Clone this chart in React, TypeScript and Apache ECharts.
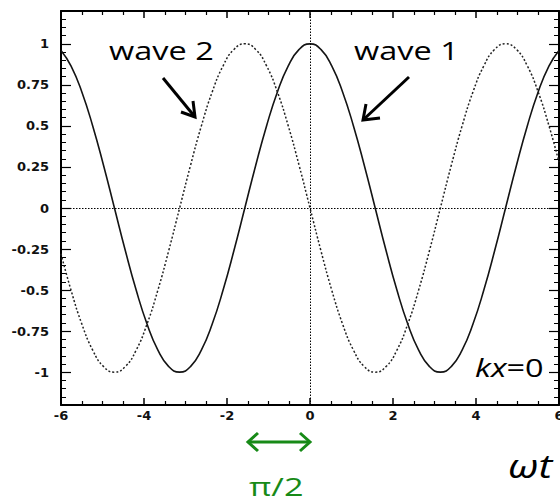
import React, { useEffect, useRef } from "react";
import * as echarts from "echarts";

// sample positions (ωt, in steps of π/12 plus the two ends) and values
const xs = [-6, -5.7596, -5.4978, -5.236, -4.9742, -4.7124, -4.4506, -4.1888, -3.927, -3.6652, -3.4034, -3.1416, -2.8798, -2.618, -2.3562, -2.0944, -1.8326, -1.5708, -1.309, -1.0472, -0.7854, -0.5236, -0.2618, 0, 0.2618, 0.5236, 0.7854, 1.0472, 1.309, 1.5708, 1.8326, 2.0944, 2.3562, 2.618, 2.8798, 3.1416, 3.4034, 3.6652, 3.927, 4.1888, 4.4506, 4.7124, 4.9742, 5.236, 5.4978, 5.7596, 6];
const waveOne = [0.96, 0.866, 0.707, 0.5, 0.259, 0, -0.259, -0.5, -0.707, -0.866, -0.966, -1, -0.966, -0.866, -0.707, -0.5, -0.259, 0, 0.259, 0.5, 0.707, 0.866, 0.966, 1, 0.966, 0.866, 0.707, 0.5, 0.259, 0, -0.259, -0.5, -0.707, -0.866, -0.966, -1, -0.966, -0.866, -0.707, -0.5, -0.259, 0, 0.259, 0.5, 0.707, 0.866, 0.96];
const waveTwo = [-0.279, -0.5, -0.707, -0.866, -0.966, -1, -0.966, -0.866, -0.707, -0.5, -0.259, 0, 0.259, 0.5, 0.707, 0.866, 0.966, 1, 0.966, 0.866, 0.707, 0.5, 0.259, 0, -0.259, -0.5, -0.707, -0.866, -0.966, -1, -0.966, -0.866, -0.707, -0.5, -0.259, 0, 0.259, 0.5, 0.707, 0.866, 0.966, 1, 0.966, 0.866, 0.707, 0.5, 0.279];
const yMajorTicks = [-1, -0.75, -0.5, -0.25, 0, 0.25, 0.5, 0.75, 1];
const xRange = [-6, 6];
const yRange = [-1.2, 1.2];
const annotations = ["wave 1", "wave 2", "kx", "=0", "ωt", "π/2"];

const labelFont = { fontFamily: "DejaVu Sans", fontWeight: "bold" as const, fontSize: 13, color: "#111" };
const GREEN = "#178a17";

export default function App() {
  const ref = useRef<HTMLDivElement>(null);
  useEffect(() => {
    if (!ref.current) return;
    document.body.style.margin = "0";
    document.body.style.overflow = "hidden";
    const chart = echarts.init(ref.current, undefined, { renderer: "svg" });
    const pairs = (vals: number[]) => xs.map((x, i) => [x, vals[i]]);
    const frameLine = { show: true, lineStyle: { color: "#000", width: 2 } };
    const yBase = { type: "value" as const, min: yRange[0], max: yRange[1], splitLine: { show: false } };
    const option: any = {
      animation: false,
      backgroundColor: "#fff",
      grid: { left: 61, right: 41, top: 11, bottom: 99, containLabel: false },
      xAxis: [
        {
          type: "value", position: "bottom", min: xRange[0], max: xRange[1], interval: 2,
          axisLine: { ...frameLine, onZero: false },
          axisTick: { show: true, inside: true, length: 7, lineStyle: { color: "#000", width: 1.5 } },
          minorTick: { show: true, splitNumber: 4, length: 4, lineStyle: { color: "#000", width: 1.2 } },
          axisLabel: { ...labelFont, margin: 4, formatter: (v: number) => String(v) },
          splitLine: { show: false },
        },
        {
          type: "value", position: "top", min: xRange[0], max: xRange[1], interval: 2,
          axisLine: { ...frameLine, onZero: false },
          axisTick: { show: true, inside: true, length: 7, lineStyle: { color: "#000", width: 1.5 } },
          minorTick: { show: true, splitNumber: 4, length: 4, lineStyle: { color: "#000", width: 1.2 } },
          axisLabel: { show: false },
          splitLine: { show: false },
        },
      ],
      yAxis: [
        {
          ...yBase, position: "left", interval: 0.05,
          axisLine: { ...frameLine, onZero: false },
          axisTick: { show: true, inside: true, length: 5, lineStyle: { color: "#000", width: 1 } },
          axisLabel: { ...labelFont, margin: 12, customValues: yMajorTicks, formatter: (v: number) => String(v) },
        },
        {
          ...yBase, position: "left", interval: 0.05,
          axisLine: { show: false, onZero: false },
          axisTick: { show: true, inside: true, length: 10, customValues: yMajorTicks, lineStyle: { color: "#000", width: 1.2 } },
          axisLabel: { show: false },
        },
        {
          ...yBase, position: "right", interval: 0.05,
          axisLine: { ...frameLine, onZero: false },
          axisTick: { show: true, inside: true, length: 5, lineStyle: { color: "#000", width: 1 } },
          axisLabel: { show: false },
        },
        {
          ...yBase, position: "right", interval: 0.05,
          axisLine: { show: false, onZero: false },
          axisTick: { show: true, inside: true, length: 10, customValues: yMajorTicks, lineStyle: { color: "#000", width: 1.2 } },
          axisLabel: { show: false },
        },
      ],
      series: [
        {
          name: "wave 1", type: "line", xAxisIndex: 0, yAxisIndex: 0, data: pairs(waveOne),
          smooth: true, showSymbol: false, symbol: "none",
          lineStyle: { color: "#141414", width: 1.6 },
          markLine: {
            silent: true, symbol: ["none", "none"], label: { show: false },
            lineStyle: { color: "#000", width: 1, type: [1.5, 1.5] },
            data: [{ yAxis: 0 }, { xAxis: 0 }],
          },
        },
        {
          name: "wave 2", type: "line", xAxisIndex: 0, yAxisIndex: 0, data: pairs(waveTwo),
          smooth: true, showSymbol: false, symbol: "none",
          lineStyle: { color: "#222", width: 1.5, type: [2, 2] },
        },
      ],
      graphic: [
        { type: "text", x: 354, y: 50.5, scaleX: 1.3, z: 100,
          style: { text: annotations[0], font: '25px "Open Sans"', fill: "#000", textAlign: "left", textVerticalAlign: "middle" } },
        { type: "text", x: 109, y: 50.5, scaleX: 1.3, z: 100,
          style: { text: annotations[1], font: '25px "Open Sans"', fill: "#000", textAlign: "left", textVerticalAlign: "middle" } },
        { type: "line", z: 100, shape: { x1: 163, y1: 78, x2: 195, y2: 117 }, style: { stroke: "#000", lineWidth: 3 } },
        { type: "polyline", z: 100, shape: { points: [[181, 112], [195, 117], [193, 101]] }, style: { stroke: "#000", lineWidth: 3, fill: null } },
        { type: "line", z: 100, shape: { x1: 409, y1: 77, x2: 363, y2: 120 }, style: { stroke: "#000", lineWidth: 3 } },
        { type: "polyline", z: 100, shape: { points: [[366, 104], [363, 120], [380, 118]] }, style: { stroke: "#000", lineWidth: 3, fill: null } },
        { type: "text", x: 475, y: 367.5, scaleX: 1.3, z: 100,
          style: { text: "{i|" + annotations[2] + "}" + annotations[3], font: '25px "Open Sans"', fill: "#000", textAlign: "left", textVerticalAlign: "middle",
            rich: { i: { fontStyle: "italic", fontFamily: "Open Sans", fontSize: 25 } } } },
        { type: "text", x: 508, y: 465, scaleX: 1.3, z: 100,
          style: { text: annotations[4], font: 'italic 32px "Open Sans"', fill: "#000", textAlign: "left", textVerticalAlign: "middle" } },
        { type: "line", z: 100, shape: { x1: 248, y1: 442, x2: 310, y2: 442 }, style: { stroke: GREEN, lineWidth: 3 } },
        { type: "polyline", z: 100, shape: { points: [[258, 433], [248, 442], [258, 451]] }, style: { stroke: GREEN, lineWidth: 3, fill: null } },
        { type: "polyline", z: 100, shape: { points: [[300, 433], [310, 442], [300, 451]] }, style: { stroke: GREEN, lineWidth: 3, fill: null } },
        { type: "text", x: 249, y: 486, scaleX: 1.32, z: 100,
          style: { text: annotations[5], font: '26px "Open Sans"', fill: GREEN, textAlign: "left", textVerticalAlign: "middle" } },
      ],
    };
    chart.setOption(option);
    return () => chart.dispose();
  }, []);
  return <div ref={ref} style={{ position: "absolute", left: 0, top: 0, width: 600, height: 504, background: "#fff" }} />;
}
